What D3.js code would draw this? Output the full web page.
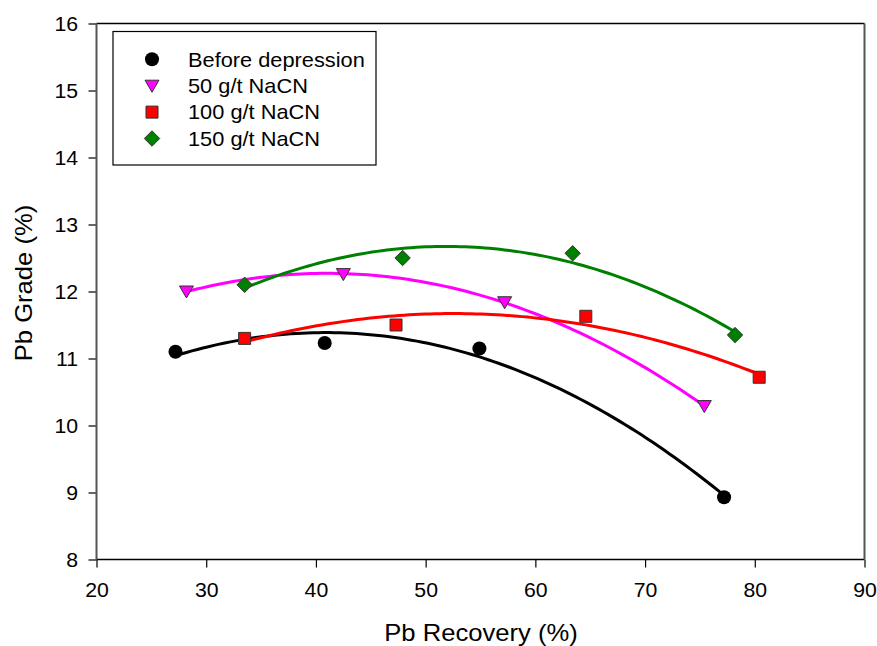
<!DOCTYPE html>
<html><head><meta charset="utf-8">
<script src="https://cdn.jsdelivr.net/npm/d3@7"></script>
<style>body{margin:0;background:#fff}svg{display:block}text{font-family:Arial,"Liberation Sans",sans-serif}</style>
</head><body>
<svg id="c" width="877" height="646"></svg>
<script>
const seriesNames = ["Before depression", "50 g/t NaCN", "100 g/t NaCN", "150 g/t NaCN"];
const seriesColors = ["#000000", "#ff00ff", "#ff0000", "#008000"];
const seriesSymbols = ["circle", "triangleDown", "square", "diamond"];
const recBefore = [27.2, 40.8, 54.9, 77.2];
const gradeBefore = [11.1, 11.23, 11.15, 8.93];
const rec50 = [28.2, 42.5, 57.2, 75.4];
const grade50 = [12.0, 12.26, 11.84, 10.29];
const rec100 = [33.5, 47.3, 64.6, 80.4];
const grade100 = [11.3, 11.5, 11.63, 10.72];
const rec150 = [33.5, 47.9, 63.4, 78.2];
const grade150 = [12.1, 12.5, 12.57, 11.35];
const xTicks = [20, 30, 40, 50, 60, 70, 80, 90];
const yTicks = [8, 9, 10, 11, 12, 13, 14, 15, 16];

const recs = [recBefore, rec50, rec100, rec150];
const grades = [gradeBefore, grade50, grade100, grade150];

const svg = d3.select("#c");
const L = 96.5, R = 864.5, T = 23.5, B = 559.5;
const SX = 1.09;
const x = d3.scaleLinear().domain([20, 90]).range([L, R]);
const y = d3.scaleLinear().domain([8, 16]).range([B, T]);

// quadratic least squares fit
function quadFit(xs, ys) {
  const n = xs.length;
  let S = [0,0,0,0,0], Sy = [0,0,0];
  for (let i = 0; i < n; i++) {
    for (let k = 0; k < 5; k++) S[k] += Math.pow(xs[i], k);
    for (let k = 0; k < 3; k++) Sy[k] += ys[i] * Math.pow(xs[i], k);
  }
  const A = [[S[0],S[1],S[2],Sy[0]],[S[1],S[2],S[3],Sy[1]],[S[2],S[3],S[4],Sy[2]]];
  for (let i = 0; i < 3; i++) {
    let p = i;
    for (let r = i+1; r < 3; r++) if (Math.abs(A[r][i]) > Math.abs(A[p][i])) p = r;
    [A[i], A[p]] = [A[p], A[i]];
    for (let r = 0; r < 3; r++) if (r !== i) {
      const f = A[r][i] / A[i][i];
      for (let c = i; c < 4; c++) A[r][c] -= f * A[i][c];
    }
  }
  return [A[0][3]/A[0][0], A[1][3]/A[1][1], A[2][3]/A[2][2]];
}

// axes
const xAxis = svg.append("g").attr("transform", `translate(0,${B})`)
  .call(d3.axisBottom(x).tickValues(xTicks).tickSize(8).tickSizeOuter(0));
xAxis.select(".domain").remove();
xAxis.selectAll("line").attr("stroke", "#000").attr("stroke-width", 1.2);
xAxis.selectAll("text").attr("font-size", 19.5).attr("y", 37.5).attr("dy", 0)
  .attr("transform", `scale(${SX},1)`).attr("fill", "#000");

const yAxis = svg.append("g").attr("transform", `translate(${L},0)`)
  .call(d3.axisLeft(y).tickValues(yTicks).tickSize(8).tickSizeOuter(0));
yAxis.select(".domain").remove();
yAxis.selectAll("line").attr("stroke", "#000").attr("stroke-width", 1.2);
yAxis.selectAll("text").attr("font-size", 19.5).attr("x", -18.5 / SX).attr("dx", 0).attr("dy", "0.36em")
  .attr("transform", `scale(${SX},1)`).attr("fill", "#000");

// frame
svg.append("line").attr("x1", L).attr("x2", R).attr("y1", T).attr("y2", T).attr("stroke", "#000").attr("stroke-width", 1.5);
svg.append("line").attr("x1", L).attr("x2", R).attr("y1", B).attr("y2", B).attr("stroke", "#000").attr("stroke-width", 1.5);
svg.append("line").attr("x1", L).attr("x2", L).attr("y1", T).attr("y2", B).attr("stroke", "#555").attr("stroke-width", 2);
svg.append("line").attr("x1", R).attr("x2", R).attr("y1", T).attr("y2", B).attr("stroke", "#555").attr("stroke-width", 2);

// curves
const line = d3.line().x(d => x(d[0])).y(d => y(d[1]));
recs.forEach((xs, i) => {
  const c = quadFit(xs, grades[i]);
  const x0 = d3.min(xs), x1 = d3.max(xs);
  const pts = d3.range(0, 101).map(k => {
    const xv = x0 + (x1 - x0) * k / 100;
    return [xv, c[0] + c[1]*xv + c[2]*xv*xv];
  });
  svg.append("path").attr("d", line(pts)).attr("fill", "none")
    .attr("stroke", seriesColors[i]).attr("stroke-width", 3);
});

// markers
function symbolPath(type) {
  if (type === "circle") return d3.symbol(d3.symbolCircle, 155)();
  if (type === "square") return "M-6,-6H6V6H-6Z";
  if (type === "triangleDown") return "M-7,-5.5H7L0,6.5Z";
  if (type === "diamond") return "M0,-7.7L7.7,0L0,7.7L-7.7,0Z";
}
function drawMarker(g, type, color) {
  g.append("path").attr("d", symbolPath(type)).attr("fill", color)
    .attr("stroke", type === "circle" ? "none" : "#333").attr("stroke-width", 1);
}
recs.forEach((xs, i) => {
  xs.forEach((xv, j) => {
    const g = svg.append("g").attr("transform", `translate(${x(xv)},${y(grades[i][j])})`);
    drawMarker(g, seriesSymbols[i], seriesColors[i]);
  });
});

// legend
svg.append("rect").attr("x", 113).attr("y", 31.5).attr("width", 263).attr("height", 133.5)
  .attr("fill", "#fff").attr("stroke", "#000").attr("stroke-width", 1.2);
seriesNames.forEach((name, i) => {
  const yy = 59.3 + i * 26.4;
  const g = svg.append("g").attr("transform", `translate(152,${yy})`);
  drawMarker(g, seriesSymbols[i], seriesColors[i]);
  svg.append("text").attr("transform", `translate(188,${yy}) scale(${SX},1)`).attr("dy", "0.36em")
    .attr("font-size", 20).text(name);
});

// axis titles
svg.append("text").attr("transform", `translate(481,641) scale(${SX},1)`).attr("text-anchor", "middle")
  .attr("font-size", 23.5).text("Pb Recovery (%)");
svg.append("text").attr("transform", `translate(32,283) rotate(-90) scale(${SX},1)`).attr("text-anchor", "middle")
  .attr("font-size", 23.5).text("Pb Grade (%)");
</script>
</body></html>
